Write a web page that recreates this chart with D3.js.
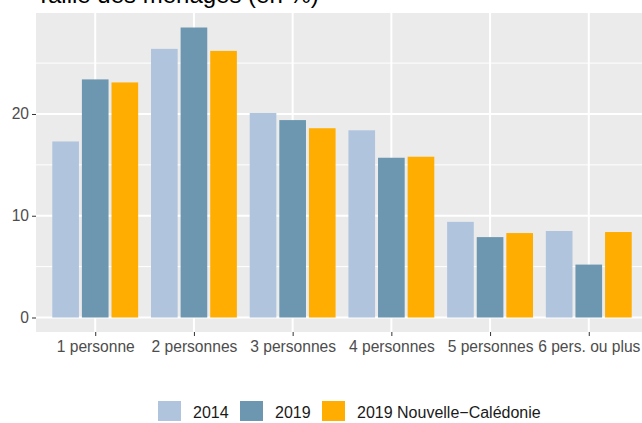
<!DOCTYPE html>
<html>
<head>
<meta charset="utf-8">
<script src="https://cdn.jsdelivr.net/npm/d3@7"></script>
<style>
  body { margin: 0; background: #fff; }
  text { font-family: "Liberation Sans", Arial, sans-serif; }
</style>
</head>
<body>
<div id="chart"></div>
<script>
// data
const categories = ["1 personne", "2 personnes", "3 personnes", "4 personnes", "5 personnes", "6 pers. ou plus"];
const seriesNames = ["2014", "2019", "2019 Nouvelle\u2212Calédonie"];
const values2014 = [17.3, 26.4, 20.1, 18.4, 9.4, 8.5];
const values2019 = [23.4, 28.5, 19.4, 15.7, 7.9, 5.2];
const valuesNC = [23.1, 26.2, 18.6, 15.8, 8.3, 8.4];
const yTicks = [0, 10, 20];
const colors = ["#B0C4DE", "#6D97B0", "#FFAD00"];

const width = 642, height = 423;
const panel = { left: 36, right: 648, top: 13, bottom: 332 };

const svg = d3.select("#chart").append("svg")
  .attr("width", width)
  .attr("height", height);

// title (mostly cut off at the top in the original)
svg.append("text")
  .attr("x", 36)
  .attr("y", 3)
  .attr("font-size", 24)
  .attr("fill", "#000")
  .text("Taille des ménages (en %)");

const x = d3.scalePoint().domain(categories).range([panel.left, panel.right]).padding(0.6);
const step = x.step();
const xInner = d3.scaleBand().domain(seriesNames)
  .range([-0.45 * step, 0.45 * step])
  .paddingInner(0.1).paddingOuter(0.05);

const maxV = d3.max([...values2014, ...values2019, ...valuesNC]);
const y = d3.scaleLinear().domain([-0.05 * maxV, maxV * 1.05]).range([panel.bottom, panel.top]);

// panel background
svg.append("rect")
  .attr("x", panel.left).attr("y", panel.top)
  .attr("width", panel.right - panel.left).attr("height", panel.bottom - panel.top)
  .attr("fill", "#EBEBEB");

// minor grid
const minor = [5, 15, 25];
svg.append("g").selectAll("line").data(minor).join("line")
  .attr("x1", panel.left).attr("x2", panel.right)
  .attr("y1", d => y(d)).attr("y2", d => y(d))
  .attr("stroke", "#fff").attr("stroke-width", 1);

// major grid
svg.append("g").selectAll("line").data(yTicks).join("line")
  .attr("x1", panel.left).attr("x2", panel.right)
  .attr("y1", d => y(d)).attr("y2", d => y(d))
  .attr("stroke", "#fff").attr("stroke-width", 2);
svg.append("g").selectAll("line").data(categories).join("line")
  .attr("x1", d => x(d)).attr("x2", d => x(d))
  .attr("y1", panel.top).attr("y2", panel.bottom)
  .attr("stroke", "#fff").attr("stroke-width", 2);

// bars
const allSeries = [values2014, values2019, valuesNC];
const groups = svg.append("g").selectAll("g").data(categories).join("g")
  .attr("transform", d => `translate(${x(d)},0)`);
groups.selectAll("rect")
  .data((c, i) => seriesNames.map((s, j) => ({ s, j, v: allSeries[j][i] })))
  .join("rect")
  .attr("x", d => xInner(d.s))
  .attr("width", xInner.bandwidth())
  .attr("y", d => y(d.v))
  .attr("height", d => y(0) - y(d.v))
  .attr("fill", d => colors[d.j]);

// y axis
const yAxis = svg.append("g").attr("transform", `translate(${panel.left},0)`)
  .call(d3.axisLeft(y).tickValues(yTicks).tickSize(4).tickPadding(3));
yAxis.select(".domain").remove();
yAxis.selectAll("line").attr("stroke", "#333");
yAxis.selectAll("text").attr("fill", "#4D4D4D").attr("font-size", 15.6)
  .attr("font-family", "Liberation Sans, Arial, sans-serif");

// x axis
const xAxis = svg.append("g").attr("transform", `translate(0,${panel.bottom})`)
  .call(d3.axisBottom(x).tickSize(4).tickPadding(5));
xAxis.select(".domain").remove();
xAxis.selectAll("line").attr("stroke", "#333");
xAxis.selectAll("text").attr("fill", "#4D4D4D").attr("font-size", 15.6)
  .attr("font-family", "Liberation Sans, Arial, sans-serif");

// legend
const legendX = [158, 240, 322];
const legend = svg.append("g").selectAll("g").data(seriesNames).join("g")
  .attr("transform", (d, i) => `translate(${legendX[i]},401)`);
legend.append("rect")
  .attr("width", 23).attr("height", 20)
  .attr("fill", (d, i) => colors[i]);
legend.append("text")
  .attr("x", 35).attr("y", 16.5)
  .attr("font-size", 16)
  .attr("fill", "#1a1a1a")
  .text(d => d);
</script>
</body>
</html>
